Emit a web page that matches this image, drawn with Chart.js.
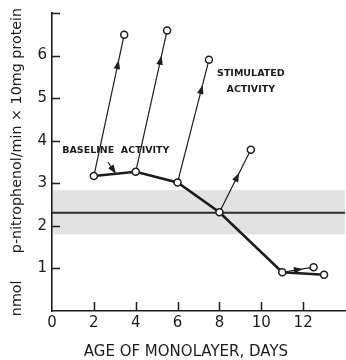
<!DOCTYPE html>
<html>
<head>
<meta charset="utf-8">
<script src="https://cdn.jsdelivr.net/npm/chart.js@4/dist/chart.umd.min.js"></script>
<style>
  html, body { margin: 0; padding: 0; background: #fff; }
  #wrap { width: 346px; height: 360px; }
</style>
</head>
<body>
<div id="wrap"><canvas id="chart" width="346" height="360"></canvas></div>
<script>
// baseline activity by age of monolayer
const days = [2, 4, 6, 8, 11, 13];
const baseline = [3.17, 3.27, 3.02, 2.32, 0.91, 0.85];

// stimulated activity, one segment from each baseline point
const stimDays = [3.45, 5.5, 7.5, 9.5, 12.5];
const stimValues = [6.49, 6.59, 5.9, 3.79, 1.03];

// reference band (mean and range)
const meanLevel = 2.31;
const bandRange = [1.8, 2.84];

const xTicks = [0, 2, 4, 6, 8, 10, 12];
const yTicks = [1, 2, 3, 4, 5, 6];

const INK = '#1c1c1c';
const FONT = '"DejaVu Sans", sans-serif';

const arrowHead = (ctx, cx, cy, ux, uy) => {
  const px = -uy, py = ux;
  ctx.beginPath();
  ctx.moveTo(cx + ux * 5, cy + uy * 5);
  ctx.lineTo(cx - ux * 4 + px * 3.3, cy - uy * 4 + py * 3.3);
  ctx.lineTo(cx - ux * 4 - px * 3.3, cy - uy * 4 - py * 3.3);
  ctx.closePath();
  ctx.fill();
};

const decor = {
  id: 'decor',
  beforeDatasetsDraw(chart) {
    const { ctx, chartArea: a, scales: { x, y } } = chart;
    ctx.save();
    // shaded range
    const top = y.getPixelForValue(bandRange[1]);
    const bot = y.getPixelForValue(bandRange[0]);
    ctx.fillStyle = '#e2e2e2';
    ctx.fillRect(a.left + 1, top, a.right - a.left - 1, bot - top);
    // mean line
    const my = y.getPixelForValue(meanLevel);
    ctx.strokeStyle = '#2b2b2b';
    ctx.lineWidth = 2;
    ctx.beginPath();
    ctx.moveTo(a.left, my);
    ctx.lineTo(a.right, my);
    ctx.stroke();
    ctx.restore();
  },
  afterDatasetsDraw(chart) {
    const { ctx, chartArea: a, scales: { x, y } } = chart;
    ctx.save();
    ctx.fillStyle = INK;
    ctx.strokeStyle = INK;

    // arrowheads on stimulated segments
    stimDays.forEach((sd, i) => {
      const x0 = x.getPixelForValue(days[i]), y0 = y.getPixelForValue(baseline[i]);
      const x1 = x.getPixelForValue(sd), y1 = y.getPixelForValue(stimValues[i]);
      const len = Math.hypot(x1 - x0, y1 - y0);
      const ux = (x1 - x0) / len, uy = (y1 - y0) / len;
      const d = Math.min(31, len * 0.5);
      arrowHead(ctx, x1 - ux * d, y1 - uy * d, ux, uy);
    });

    // inward ticks
    ctx.lineWidth = 1.5;
    ctx.beginPath();
    xTicks.filter(v => v > 0).forEach(v => {
      const px = Math.round(x.getPixelForValue(v)) + 0.5;
      ctx.moveTo(px, a.bottom);
      ctx.lineTo(px, a.bottom - 9);
    });
    [...yTicks, 7].forEach(v => {
      const py = Math.round(y.getPixelForValue(v)) + 0.5;
      ctx.moveTo(a.left, py);
      ctx.lineTo(a.left + 8, py);
    });
    ctx.stroke();

    // annotations
    ctx.font = 'bold 9.5px ' + FONT;
    ctx.textAlign = 'center';
    ctx.textBaseline = 'middle';
    ctx.fillText('BASELINE  ACTIVITY', x.getPixelForValue(3.05), y.getPixelForValue(3.77));
    ctx.fillText('STIMULATED', x.getPixelForValue(9.5), y.getPixelForValue(5.57));
    ctx.fillText('ACTIVITY', x.getPixelForValue(9.5), y.getPixelForValue(5.21));

    // small pointer from label to baseline curve
    const ax0 = x.getPixelForValue(2.67), ay0 = y.getPixelForValue(3.5);
    const ax1 = x.getPixelForValue(3.0), ay1 = y.getPixelForValue(3.26);
    ctx.lineWidth = 1.2;
    ctx.beginPath();
    ctx.moveTo(ax0, ay0);
    ctx.lineTo(ax1, ay1);
    ctx.stroke();
    const L = Math.hypot(ax1 - ax0, ay1 - ay0);
    arrowHead(ctx, ax1 - (ax1 - ax0) / L * 3, ay1 - (ay1 - ay0) / L * 3, (ax1 - ax0) / L, (ay1 - ay0) / L);

    // x axis title
    ctx.font = '15px ' + FONT;
    ctx.textBaseline = 'middle';
    ctx.fillText('AGE OF MONOLAYER, DAYS', x.getPixelForValue(6.4), 352);
    ctx.restore();
  }
};

const pointStyle = {
  pointStyle: 'circle',
  pointBackgroundColor: '#fff',
  pointBorderColor: INK,
  pointBorderWidth: 1.5,
};

const datasets = [
  {
    label: 'Baseline activity',
    data: days.map((d, i) => ({ x: d, y: baseline[i] })),
    showLine: true,
    borderColor: INK,
    borderWidth: 2.6,
    pointRadius: 3.5,
    ...pointStyle,
  },
  ...stimDays.map((sd, i) => ({
    label: 'Stimulated activity ' + days[i],
    data: [{ x: days[i], y: baseline[i] }, { x: sd, y: stimValues[i] }],
    showLine: true,
    borderColor: INK,
    borderWidth: 1.2,
    pointRadius: [0, 3.5],
    ...pointStyle,
  })),
];

new Chart(document.getElementById('chart').getContext('2d'), {
  type: 'scatter',
  data: { datasets },
  plugins: [decor],
  options: {
    responsive: false,
    animation: false,
    layout: { autoPadding: false, padding: { top: 13, right: 1, left: 0, bottom: 0 } },
    plugins: {
      legend: { display: false },
      tooltip: { enabled: false },
    },
    scales: {
      x: {
        type: 'linear',
        min: 0,
        max: 14,
        afterFit: (s) => { s.height = 49; s.paddingLeft = 0; s.paddingRight = 0; },
        afterBuildTicks: (s) => { s.ticks = [...xTicks, 14].map(v => ({ value: v })); },
        ticks: {
          color: INK,
          font: { family: FONT, size: 15 },
          padding: 3,
          maxRotation: 0,
          callback: (v) => (xTicks.includes(v) ? v : ''),
        },
        grid: { display: false, drawTicks: false },
        border: { display: true, color: INK, width: 1.6 },
      },
      y: {
        type: 'linear',
        min: 0,
        max: 7,
        afterFit: (s) => { s.width = 52; s.paddingTop = 0; s.paddingBottom = 0; },
        afterBuildTicks: (s) => { s.ticks = [0, ...yTicks, 7].map(v => ({ value: v })); },
        ticks: {
          color: INK,
          font: { family: FONT, size: 15 },
          padding: 5,
          callback: (v) => (yTicks.includes(v) ? v : ''),
        },
        grid: { display: false, drawTicks: false },
        border: { display: true, color: INK, width: 1.6 },
        title: {
          display: true,
          text: 'nmol      p-nitrophenol/min × 10mg protein',
          color: INK,
          font: { family: FONT, size: 14.3 },
          padding: { top: 9, bottom: 0 },
        },
      },
    },
  },
});
</script>
</body>
</html>
